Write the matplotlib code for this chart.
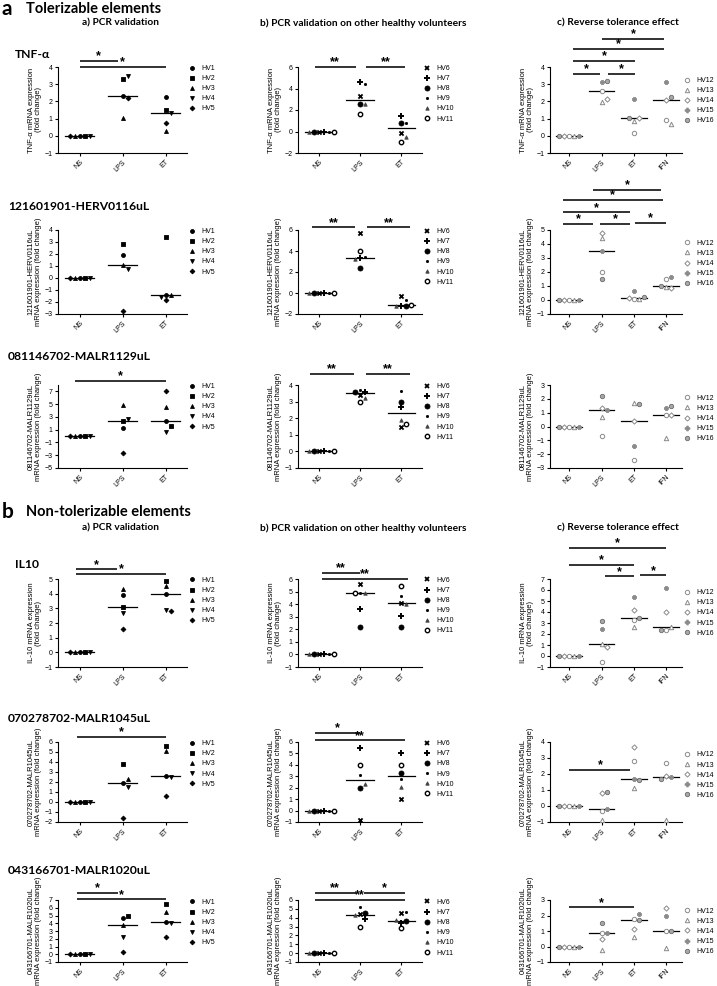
import numpy as np
import matplotlib
matplotlib.use('Agg')
import matplotlib.pyplot as plt
from matplotlib.lines import Line2D
from matplotlib.transforms import blended_transform_factory

# ---- data (fold change, one value per volunteer) ----
groups3 = ['NS', 'LPS', 'ET']
groups4 = ['NS', 'LPS', 'ET', 'IFN']
hv_a = ['HV1', 'HV2', 'HV3', 'HV4', 'HV5']
hv_b = ['HV6', 'HV7', 'HV8', 'HV9', 'HV10', 'HV11']
hv_c = ['HV12', 'HV13', 'HV14', 'HV15', 'HV16']

tnf_a = [[0, 0, 0, 0, 0], [2.3, 3.3, 1.05, 3.5, 2.2], [2.25, 1.5, 0.3, 1.3, 0.75]]
tnf_b = [[0, 0, 0, 0, 0, 0], [3.3, 4.6, 2.6, 4.4, 2.6, 1.6], [-0.15, 1.4, 0.8, 0.75, -0.5, -0.95]]
tnf_c = [[0, 0, 0, 0, 0], [2.6, 1.95, 2.15, 3.1, 3.2], [0.15, 0.85, 1.05, 2.15, 1.05],
         [0.9, 0.7, 2.1, 3.1, 2.25]]

herv_a = [[0, 0, 0, 0, 0], [1.9, 2.85, 1.05, 0.75, -2.75], [-1.4, 3.45, -1.45, -1.55, -1.85]]
herv_b = [[0, 0, 0, 0, 0, 0], [5.7, 3.3, 2.4, 3.4, 3.2, 4.0], [-0.3, -1.2, -1.2, -0.7, -1.2, -1.15]]
herv_c = [[0, 0, 0, 0, 0], [2.0, 4.4, 4.8, 3.5, 1.5], [0.1, 0.1, 0.15, 0.65, 0.2],
          [1.5, 0.9, 0.85, 1.65, 1.0]]

malr1129_a = [[0, 0, 0, 0, 0], [1.2, 2.4, 4.9, 2.7, -2.7], [2.3, 1.6, 4.5, 0.6, 7.0]]
malr1129_b = [[0, 0, 0, 0, 0, 0], [3.4, 3.6, 3.6, 3.7, 3.2, 2.95], [1.45, 2.7, 3.0, 3.65, 1.9, 1.65]]
malr1129_c = [[0, 0, 0, 0, 0], [-0.7, 0.7, 1.35, 1.2, 2.2], [-2.4, 1.7, 0.4, -1.4, 1.6],
              [0.85, -0.8, 0.8, 1.35, 1.45]]

il10_a = [[0, 0, 0, 0, 0], [3.9, 3.1, 4.35, 2.7, 1.6], [4.0, 4.85, 4.5, 2.9, 2.8]]
il10_b = [[0, 0, 0, 0, 0, 0], [5.6, 3.65, 2.2, 4.9, 4.9, 4.9], [4.1, 3.05, 2.15, 4.65, 4.05, 5.45]]
il10_c = [[0, 0, 0, 0, 0], [-0.5, 1.1, 0.8, 2.45, 3.2], [3.3, 2.6, 4.2, 5.4, 3.5],
          [2.4, 2.6, 4.0, 6.2, 2.4]]

malr1045_a = [[0, 0, 0, 0, 0], [1.9, 3.8, 2.3, 1.5, -1.6], [2.6, 5.6, 5.1, 2.5, 0.6]]
malr1045_b = [[0, 0, 0, 0, 0, 0], [-0.8, 5.5, 2.0, 3.1, 2.3, 4.0], [1.0, 5.0, 3.3, 2.8, 2.1, 4.0]]
malr1045_c = [[0, 0, 0, 0, 0], [-0.3, -0.9, 0.8, -0.2, 0.9], [2.8, 1.1, 3.7, 1.7, 1.6],
              [2.7, -0.9, 1.9, 1.8, 1.7]]

malr1020_a = [[0, 0, 0, 0, 0], [4.7, 5.0, 3.8, 2.2, 0.3], [4.2, 6.5, 5.5, 4.0, 2.2]]
malr1020_b = [[0, 0, 0, 0, 0, 0], [4.4, 3.9, 4.5, 5.2, 4.3, 3.0], [4.5, 3.4, 3.6, 4.6, 3.7, 2.8]]
malr1020_c = [[0, 0, 0, 0, 0], [0.9, -0.2, 0.5, 0.9, 1.5], [1.8, 0.6, 1.1, 2.1, 1.7],
              [1.0, -0.1, 2.5, 2.0, 1.0]]

# ---- styles: marker, size, face, edge, edge width ----
GRAY = '#8a8a8a'
hv_style = {
    'HV1': ('o', 8, 'k', 'k', 0.6), 'HV2': ('s', 8, 'k', 'k', 0.6), 'HV3': ('^', 8, 'k', 'k', 0.6),
    'HV4': ('v', 8, 'k', 'k', 0.6), 'HV5': ('D', 6, 'k', 'k', 0.6),
    'HV6': ('x', 9, 'k', 'k', 1.3), 'HV7': ('+', 16, 'k', 'k', 1.4), 'HV8': ('o', 13, 'k', 'k', 0.6),
    'HV9': ('o', 2.5, 'k', 'k', 0.6), 'HV10': ('^', 6, '#444', '#444', 0.6),
    'HV11': ('o', 10, 'white', 'k', 1.0),
    'HV12': ('o', 10, 'white', GRAY, 0.7), 'HV13': ('^', 10, 'white', GRAY, 0.7),
    'HV14': ('D', 7, 'white', GRAY, 0.7), 'HV15': ('P', 12, GRAY, GRAY, 0.6),
    'HV16': ('o', 10, '#a8a8a8', '#6a6a6a', 0.6),
}

W, H = 717, 986
fig = plt.figure(figsize=(7.17, 9.86), dpi=100)
plt.rcParams['font.family'] = ['Liberation Sans', 'DejaVu Sans']
TFONT = ['Lato', 'DejaVu Sans']


def box(l, t, r, b):
    return [l / W, 1 - b / H, (r - l) / W, (b - t) / H]


col_px = {'a': (58, 187), 'b': (298, 422), 'c': (550, 682)}
row_px = [(67, 153), (230, 314), (385, 468), (579, 667), (742, 822), (900, 962)]


def swarm(vals, ppu_x, ppu_y, r=5.0):
    placed, out = [], []
    cands = [0]
    for i in range(1, 8):
        cands += [i, -i]
    for v in vals:
        y = v * ppu_y
        for c in cands:
            x = c * r
            if all((x - px) ** 2 + (y - py) ** 2 >= (r * 0.95) ** 2 for px, py in placed):
                break
        placed.append((x, y))
        out.append(x / ppu_x)
    return out


def sig(ax, x0, x1, yf, label):
    tr = blended_transform_factory(ax.transData, ax.transAxes)
    ax.plot([x0, x1], [yf, yf], transform=tr, color='#222222', lw=1.3, clip_on=False,
            solid_capstyle='butt')
    ax.annotate(label, xy=((x0 + x1) / 2, yf), xycoords=tr, xytext=(0, -1),
                textcoords='offset points', ha='center', va='bottom', fontsize=9,
                fontweight='bold', annotation_clip=False)


def panel(ax, data, col, ylim, yticks, ylabel, bars, pos):
    groups = groups4 if col == 'c' else groups3
    hvs = {'a': hv_a, 'b': hv_b, 'c': hv_c}[col]
    xlim = (-0.6, 3.5) if col == 'c' else (-0.5, 2.5)
    l, r = col_px[col]
    t, b = pos
    ppu_x = (r - l) / (xlim[1] - xlim[0])
    ppu_y = (b - t) / (ylim[1] - ylim[0])
    hw = 0.4 if col == 'c' else 0.33
    for gi, vals in enumerate(data):
        offs = swarm(vals, ppu_x, ppu_y)
        med = np.median(vals)
        ax.plot([gi - hw, gi + hw], [med, med], color='k', lw=0.9, zorder=2)
        for hv, v, dx in zip(hvs, vals, offs):
            m, s, fc, ec, lw = hv_style[hv]
            if m in ('x', '+'):
                ax.scatter(gi + dx, v, marker=m, s=s, color=ec, linewidths=lw, zorder=3)
            else:
                ax.scatter(gi + dx, v, marker=m, s=s, facecolor=fc, edgecolor=ec,
                           linewidths=lw, zorder=3)
    ax.set_xlim(*xlim)
    ax.set_ylim(*ylim)
    ax.set_yticks(yticks)
    ax.set_xticks(range(len(groups)))
    ax.set_xticklabels(groups, rotation=45, ha='right', rotation_mode='anchor')
    for sp in ['top', 'right']:
        ax.spines[sp].set_visible(False)
    for sp in ['left', 'bottom']:
        ax.spines[sp].set_linewidth(0.8)
    ax.tick_params(labelsize=5, length=2.5, width=0.8, pad=1.5)
    ax.set_ylabel(ylabel, fontsize=5.5, labelpad=2, linespacing=1.0)
    for x0, x1, yf, lab in bars:
        sig(ax, x0, x1, yf, lab)
    handles = []
    for hv in hvs:
        m, s, fc, ec, lw = hv_style[hv]
        handles.append(Line2D([], [], ls='', marker=m, markersize=np.sqrt(s),
                              markerfacecolor=fc, markeredgecolor=ec, markeredgewidth=lw))
    anchor = (1.0, 0.9) if col == 'c' else (1.0, 1.04)
    ax.legend(handles, hvs, loc='upper left', bbox_to_anchor=anchor, frameon=False,
              fontsize=5, handlelength=1.0, handletextpad=0.8, labelspacing=0.45,
              borderpad=0, borderaxespad=0.2)


rows = [
    ('TNF-α', 'TNF-α mRNA expression\n(fold change)', [
        ('a', tnf_a, (-1, 4), range(-1, 5), [(0, 0.9, 1.07, '*'), (0, 2.0, 1.0, '*')]),
        ('b', tnf_b, (-2, 6), range(-2, 7, 2), [(-0.1, 0.9, 1.0, '**'), (1.15, 2.1, 1.0, '**')]),
        ('c', tnf_c, (-1, 4), range(-1, 5), [(0.1, 0.95, 0.92, '*'), (1.2, 2.05, 0.92, '*'),
                                             (0.1, 2.05, 1.07, '*'), (0.1, 2.95, 1.21, '*'),
                                             (1.0, 2.95, 1.33, '*')])]),
    ('121601901-HERV0116uL', '121601901-HERV0116uL\nmRNA expression (fold change)', [
        ('a', herv_a, (-3, 4), range(-3, 5), []),
        ('b', herv_b, (-2, 6), range(-2, 7, 2), [(-0.15, 0.87, 1.03, '**'), (1.17, 2.2, 1.03, '**')]),
        ('c', herv_c, (-1, 5), range(-1, 6), [(-0.2, 0.75, 1.07, '*'), (0.95, 1.9, 1.07, '*'),
                                              (2.05, 3.0, 1.08, '*'), (-0.2, 1.9, 1.21, '*'),
                                              (-0.2, 2.9, 1.36, '*'), (0.75, 2.85, 1.48, '*')])]),
    ('081146702-MALR1129uL', '081146702-MALR1129uL\nmRNA expression (fold change)', [
        ('a', malr1129_a, (-5, 8), range(-5, 8, 2), [(-0.1, 2.0, 1.05, '*')]),
        ('b', malr1129_b, (-1, 4), range(-1, 5), [(-0.2, 0.85, 1.13, '**'), (1.15, 2.2, 1.13, '**')]),
        ('c', malr1129_c, (-3, 3), range(-3, 4), [])]),
    ('IL10', 'IL-10 mRNA expression\n(fold change)', [
        ('a', il10_a, (-1, 5), range(-1, 6), [(-0.07, 0.87, 1.11, '*'), (-0.07, 2.0, 1.06, '*')]),
        ('b', il10_b, (-1, 6), range(-1, 7), [(0.07, 1.0, 1.07, '**'), (0.07, 2.15, 1.0, '**')]),
        ('c', il10_c, (-1, 7), range(-1, 8), [(0, 3.0, 1.35, '*'), (0, 2.0, 1.16, '*'),
                                              (1.1, 2.0, 1.03, '*'), (2.2, 3.0, 1.04, '*')])]),
    ('070278702-MALR1045uL', '070278702-MALR1045uL\nmRNA expression (fold change)', [
        ('a', malr1045_a, (-2, 6), range(-2, 7), [(-0.05, 2.0, 1.06, '*')]),
        ('b', malr1045_b, (-1, 6), range(-1, 7), [(-0.1, 1.0, 1.11, '*'), (-0.1, 2.1, 1.02, '**')]),
        ('c', malr1045_c, (-1, 4), range(-1, 5), [(0, 1.9, 0.65, '*')])]),
    ('043166701-MALR1020uL', '043166701-MALR1020uL\nmRNA expression (fold change)', [
        ('a', malr1020_a, (-1, 7), range(-1, 8), [(-0.05, 0.9, 1.11, '*'), (-0.05, 2.0, 1.01, '*')]),
        ('b', malr1020_b, (-1, 6), range(-1, 7), [(-0.1, 0.9, 1.12, '**'), (1.1, 2.1, 1.12, '*'),
                                                  (-0.1, 2.1, 1.0, '**')]),
        ('c', malr1020_c, (-1, 3), range(-1, 4), [(0, 2.0, 0.88, '*')])]),
]

title_y = [55, 206, 356, 564, 718, 871]
for ri, (title, ylabel, panels) in enumerate(rows):
    t, b = row_px[ri]
    for col, data, ylim, yticks, bars in panels:
        l, r = col_px[col]
        ax = fig.add_axes(box(l, t, r, b))
        panel(ax, data, col, ylim, list(yticks), ylabel, bars, (t, b))
    tx = 15 if title in ('TNF-α', 'IL10') else 8
    fig.text(tx / W, 1 - title_y[ri] / H, title, family=TFONT, fontweight='bold',
             fontsize=8.7, va='center', ha='left')

# section headers and column titles
for lab, name, y, ty in [('a', 'Tolerizable elements', 9, 23), ('b', 'Non-tolerizable elements', 512, 528)]:
    fig.text(2 / W, 1 - y / H, lab, family=TFONT, fontweight='bold', fontsize=15, va='center')
    fig.text(26 / W, 1 - y / H, name, family=TFONT, fontweight='bold', fontsize=10.5, va='center')
    for cx, ct in [(120, 'a) PCR validation'), (363, 'b) PCR validation on other healthy volunteers'),
                   (618, 'c) Reverse tolerance effect')]:
        fig.text(cx / W, 1 - ty / H, ct, family=TFONT, fontweight='bold', fontsize=7.3,
                 ha='center', va='center')

fig.savefig('out.png', dpi=100)
